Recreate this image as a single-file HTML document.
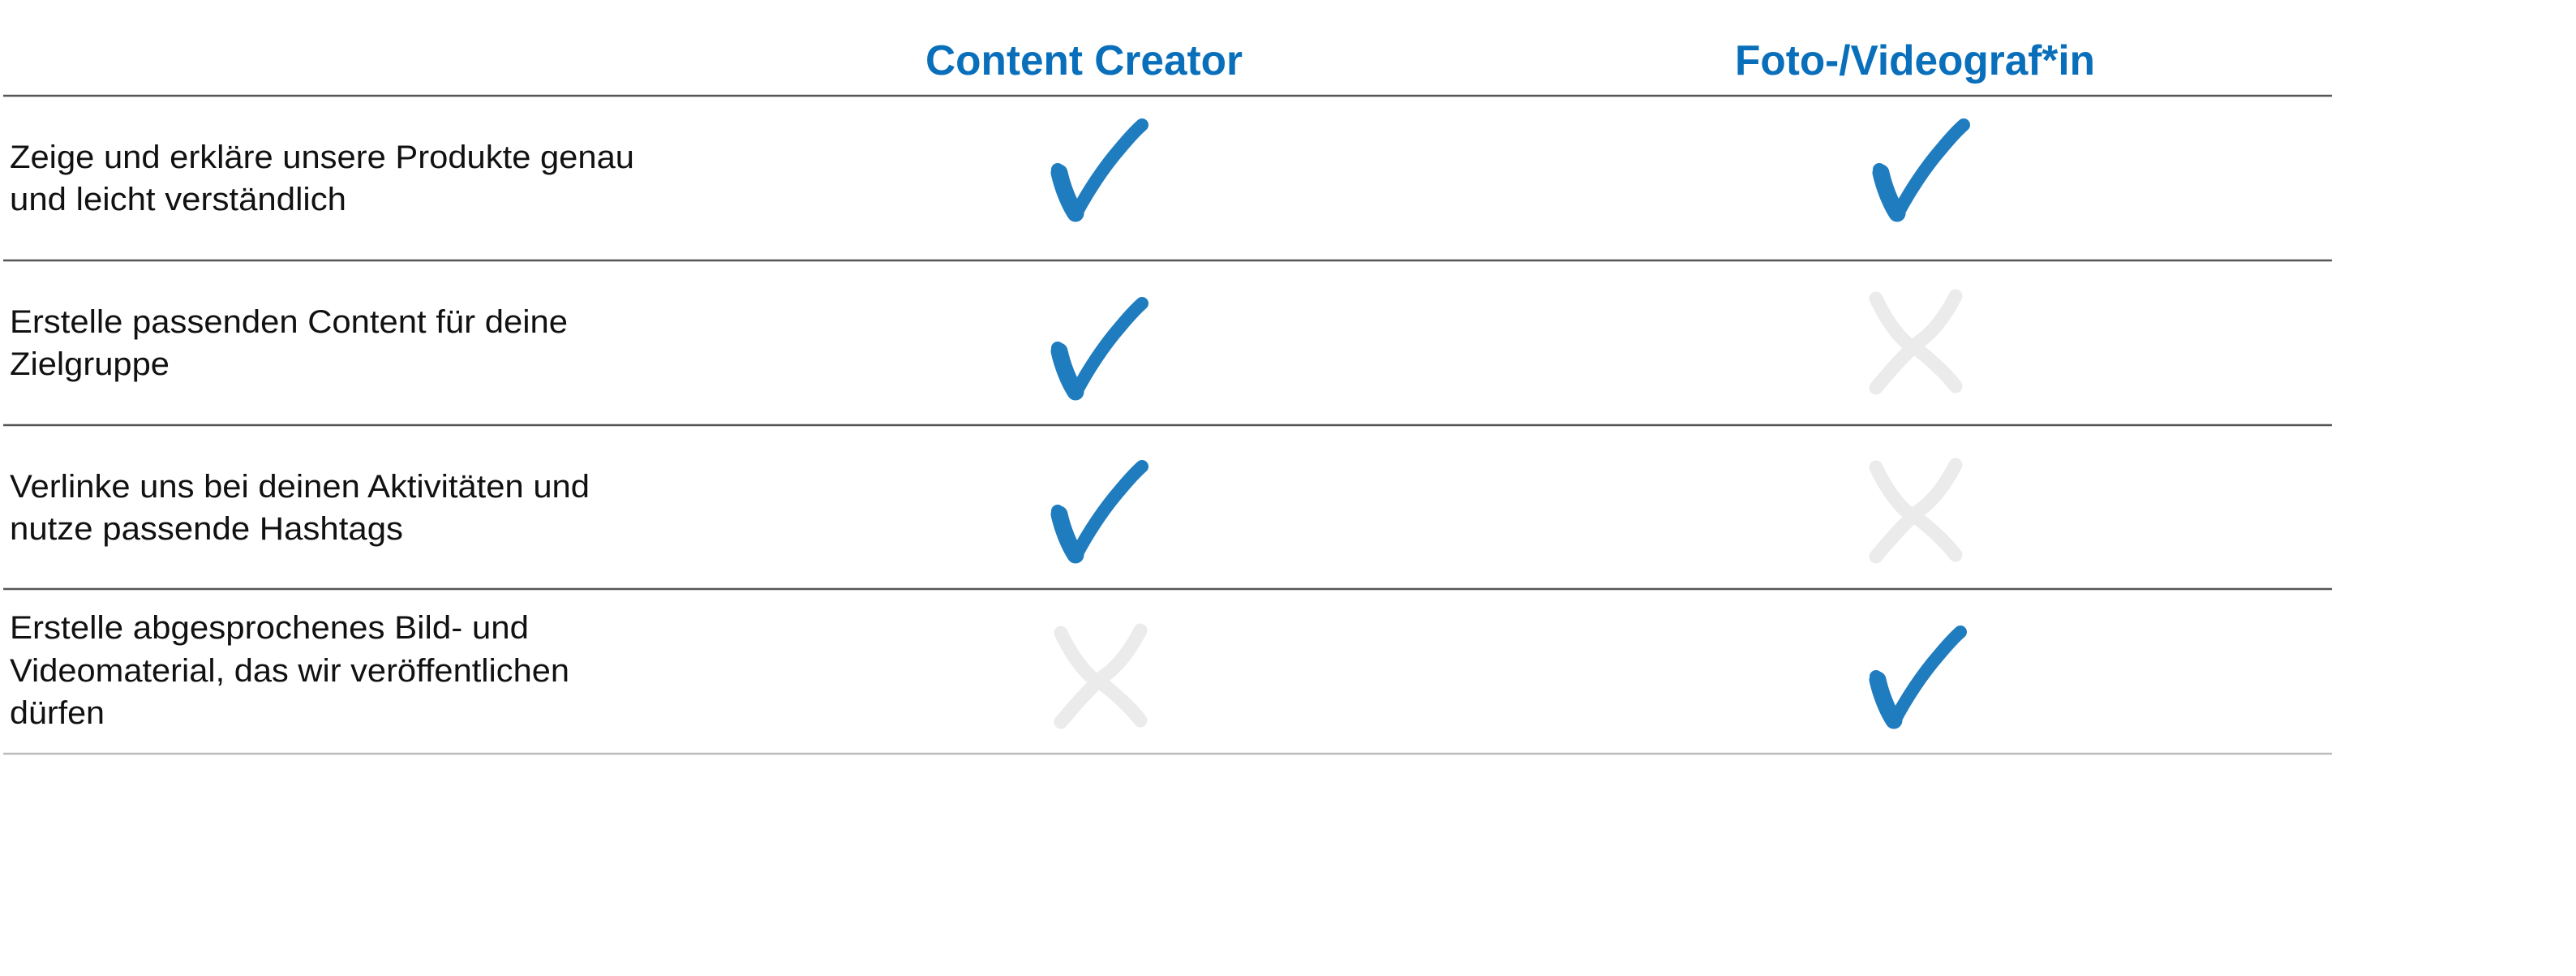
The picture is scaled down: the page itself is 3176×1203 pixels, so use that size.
<!DOCTYPE html>
<html><head><meta charset="utf-8"><style>
html,body{margin:0;padding:0;background:#fff;}
svg{display:block;}
text{font-family:"Liberation Sans",Arial,sans-serif;}
</style></head><body>
<svg width="3176" height="1203" viewBox="0 0 3176 1203" xmlns="http://www.w3.org/2000/svg">
<defs>
<g id="chk">
<path d="M8,58 C10,75 18,95 30,114 C45,85 65,55 85,32 C95,20 104,10 112,3" fill="none" stroke="#1f7dbf" stroke-width="16" stroke-linecap="round" stroke-linejoin="round"/>
<path d="M10,62 C14,80 22,100 30,112" fill="none" stroke="#1f7dbf" stroke-width="21" stroke-linecap="round"/>
</g>
<g id="crs">
<path d="M10,8 C25,40 45,65 60,70 C80,85 100,105 108,116" fill="none" stroke="#ebebeb" stroke-width="17" stroke-linecap="round"/>
<path d="M108,5 C95,30 80,50 62,62 C42,80 25,100 10,118" fill="none" stroke="#ebebeb" stroke-width="17" stroke-linecap="round"/>
</g>
</defs>
<g font-weight="bold" font-size="52" fill="#0a6fba">
<text x="1141" y="92" textLength="391" lengthAdjust="spacingAndGlyphs">Content Creator</text>
<text x="2139" y="92" textLength="444" lengthAdjust="spacingAndGlyphs">Foto-/Videograf*in</text>
</g>
<g stroke-width="2.5">
<line x1="4" y1="118" x2="2875" y2="118" stroke="#555"/>
<line x1="4" y1="321" x2="2875" y2="321" stroke="#555"/>
<line x1="4" y1="524" x2="2875" y2="524" stroke="#555"/>
<line x1="4" y1="726" x2="2875" y2="726" stroke="#555"/>
<line x1="4" y1="929" x2="2875" y2="929" stroke="#bbb"/>
</g>
<g font-size="40" fill="#111">
<text x="12" y="207" textLength="770" lengthAdjust="spacingAndGlyphs">Zeige und erkläre unsere Produkte genau</text>
<text x="12" y="259" textLength="415" lengthAdjust="spacingAndGlyphs">und leicht verständlich</text>
<text x="12" y="410" textLength="688" lengthAdjust="spacingAndGlyphs">Erstelle passenden Content für deine</text>
<text x="12" y="462" textLength="197" lengthAdjust="spacingAndGlyphs">Zielgruppe</text>
<text x="12" y="613" textLength="715" lengthAdjust="spacingAndGlyphs">Verlinke uns bei deinen Aktivitäten und</text>
<text x="12" y="665" textLength="485" lengthAdjust="spacingAndGlyphs">nutze passende Hashtags</text>
<text x="12" y="787" textLength="640" lengthAdjust="spacingAndGlyphs">Erstelle abgesprochenes Bild- und</text>
<text x="12" y="840" textLength="690" lengthAdjust="spacingAndGlyphs">Videomaterial, das wir veröffentlichen</text>
<text x="12" y="892" textLength="117" lengthAdjust="spacingAndGlyphs">dürfen</text>
</g>
<use href="#chk" x="1296" y="151"/>
<use href="#chk" x="2309" y="151"/>
<use href="#chk" x="1296" y="371"/>
<use href="#crs" x="2303" y="360"/>
<use href="#chk" x="1296" y="572"/>
<use href="#crs" x="2303" y="568"/>
<use href="#crs" x="1298" y="772"/>
<use href="#chk" x="2305" y="776"/>
</svg>
</body></html>
